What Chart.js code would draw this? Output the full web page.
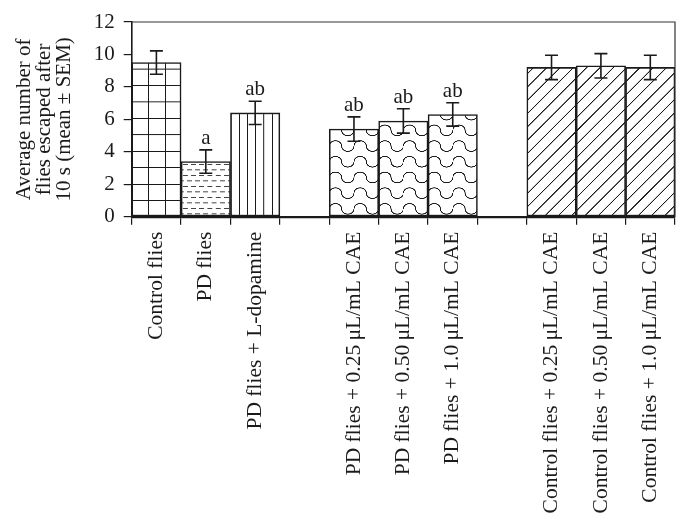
<!DOCTYPE html>
<html>
<head>
<meta charset="utf-8">
<script src="https://cdn.jsdelivr.net/npm/chart.js@4.4.0/dist/chart.umd.min.js"></script>
<style>
  html, body { margin: 0; padding: 0; background: #fff; }
  #wrap { width: 689px; height: 532px; }
</style>
</head>
<body>
<div id="wrap"><canvas id="c" width="689" height="532"></canvas></div>
<script>
// ---- data ----
const categories = [
  'Control flies', 'PD flies', 'PD flies + L-dopamine', '',
  'PD flies + 0.25\u2009\u03bcL/mL CAE', 'PD flies + 0.50\u2009\u03bcL/mL CAE', 'PD flies + 1.0\u2009\u03bcL/mL CAE', '',
  'Control flies + 0.25\u2009\u03bcL/mL CAE', 'Control flies + 0.50\u2009\u03bcL/mL CAE', 'Control flies + 1.0\u2009\u03bcL/mL CAE'
];
const meanValues = [9.5, 3.4, 6.4, null, 5.4, 5.9, 6.3, null, 9.2, 9.3, 9.2];
const semValues  = [0.72, 0.72, 0.72, null, 0.75, 0.75, 0.72, null, 0.75, 0.75, 0.75];
const sigLetters = ['', 'a', 'ab', '', 'ab', 'ab', 'ab', '', '', '', ''];
const patternKinds = ['grid', 'dash', 'vert', null, 'wave', 'wave', 'wave', null, 'diag', 'diag', 'diag'];
const yTicks = [0, 2, 4, 6, 8, 10, 12];
const yTitle = ['Average number of', 'flies escaped after', '10 s (mean \u00b1 SEM)'];

const SERIF = "'Liberation Serif', 'Times New Roman', serif";
const INK = '#1a1a1a';

// ---- patterns ----
const patternCache = {};
function makeTile(wT, hT, draw) {
  const W = Math.max(2, Math.round(wT * 4));
  const H = Math.max(2, Math.round(hT * 4));
  const cv = document.createElement('canvas');
  cv.width = W; cv.height = H;
  const g = cv.getContext('2d');
  g.fillStyle = '#fff';
  g.fillRect(0, 0, W, H);
  g.strokeStyle = INK;
  g.fillStyle = INK;
  draw(g, W, H);
  return { cv, W, H };
}
function buildPattern(kind, chart) {
  const ca = chart.chartArea;
  const slot = (ca.right - ca.left) / categories.length;
  const key = kind + '_' + slot.toFixed(3) + '_' + ca.left.toFixed(2) + '_' + ca.bottom.toFixed(2);
  if (patternCache[key]) return patternCache[key];
  let tile, wT, hT;
  if (kind === 'grid') {
    wT = slot / 3; hT = slot / 3;
    tile = makeTile(wT, hT, (g, W, H) => { g.fillRect(0, 0, W, 4); g.fillRect(0, 0, 4, H); });
  } else if (kind === 'dash') {
    wT = slot / 6; hT = 11;
    tile = makeTile(wT, hT, (g, W, H) => {
      g.fillStyle = '#444';
      const dl = W * 0.6;
      g.fillRect(W * 0.2, H * 0.25 - 2, dl, 4);
      g.fillRect(W * 0.7, H * 0.75 - 2, W * 0.3, 4);
      g.fillRect(0, H * 0.75 - 2, dl - W * 0.3, 4);
    });
  } else if (kind === 'vert') {
    wT = slot / 6; hT = 10;
    tile = makeTile(wT, hT, (g, W, H) => { g.fillRect(0, 0, 4, H); });
  } else if (kind === 'wave') {
    wT = slot / 2; hT = 15.7;
    tile = makeTile(wT, hT, (g, W, H) => {
      g.lineWidth = 4;
      const ry = 5.3 * 4;
      g.beginPath();
      g.ellipse(W / 4, H / 2, W / 4, ry, 0, Math.PI, 2 * Math.PI, false);
      g.ellipse(3 * W / 4, H / 2, W / 4, ry, 0, Math.PI, 0, true);
      g.stroke();
    });
  } else if (kind === 'diag') {
    wT = 13.3; hT = 13.3;
    tile = makeTile(wT, hT, (g, W, H) => {
      g.lineWidth = 4;
      g.beginPath();
      g.moveTo(-4, H + 4); g.lineTo(W + 4, -4);
      g.moveTo(-4, 4); g.lineTo(4, -4);
      g.moveTo(W - 4, H + 4); g.lineTo(W + 4, H - 4);
      g.stroke();
    });
  }
  const pat = chart.ctx.createPattern(tile.cv, 'repeat');
  const m = new DOMMatrix().translate(ca.left, ca.bottom).scale(wT / tile.W, hT / tile.H);
  pat.setTransform(m);
  patternCache[key] = pat;
  return pat;
}

// ---- plugins ----
const framePlugin = {
  id: 'frame',
  afterDatasetsDraw(chart) {
    const { ctx, chartArea: a } = chart;
    ctx.save();
    ctx.strokeStyle = '#333';
    ctx.lineWidth = 1.2;
    ctx.beginPath();
    ctx.moveTo(a.left, a.top); ctx.lineTo(a.right, a.top); ctx.lineTo(a.right, a.bottom);
    ctx.stroke();
    ctx.restore();
  }
};
const errorPlugin = {
  id: 'errbars',
  afterDatasetsDraw(chart) {
    const { ctx } = chart;
    const ys = chart.scales.y;
    const meta = chart.getDatasetMeta(0);
    ctx.save();
    ctx.strokeStyle = INK;
    ctx.lineWidth = 1.6;
    ctx.fillStyle = INK;
    ctx.font = "21px " + SERIF;
    ctx.textAlign = 'center';
    ctx.textBaseline = 'alphabetic';
    meanValues.forEach((v, i) => {
      if (v === null) return;
      const x = meta.data[i].x;
      const yt = ys.getPixelForValue(v + semValues[i]);
      const yb = ys.getPixelForValue(v - semValues[i]);
      const cap = 6.5;
      ctx.beginPath();
      ctx.moveTo(x, yt); ctx.lineTo(x, yb);
      ctx.moveTo(x - cap, yt); ctx.lineTo(x + cap, yt);
      ctx.moveTo(x - cap, yb); ctx.lineTo(x + cap, yb);
      ctx.stroke();
      if (sigLetters[i]) ctx.fillText(sigLetters[i], x, yt - 6);
    });
    ctx.restore();
  }
};

new Chart(document.getElementById('c'), {
  type: 'bar',
  data: {
    labels: categories,
    datasets: [{
      data: meanValues,
      backgroundColor: (c) => {
        const k = patternKinds[c.dataIndex];
        if (!k || !c.chart.chartArea) return '#fff';
        return buildPattern(k, c.chart);
      },
      borderColor: INK,
      borderWidth: 1.6,
      borderSkipped: false,
      categoryPercentage: 1.0,
      barPercentage: 1.0
    }]
  },
  options: {
    responsive: false,
    animation: false,
    devicePixelRatio: 1,
    layout: { padding: { left: 0, right: 14, top: 22, bottom: 0 } },
    plugins: { legend: { display: false }, tooltip: { enabled: false } },
    scales: {
      x: {
        grid: { display: true, drawOnChartArea: false, drawTicks: true, tickLength: 8, color: INK, lineWidth: 1.2, offset: true },
        border: { display: true, color: INK, width: 2.2 },
        ticks: {
          autoSkip: false, maxRotation: 90, minRotation: 90, padding: 7,
          color: INK, font: { family: SERIF, size: 21.5 }
        },
        afterFit(s) { s.height = 532 - 216.7; }
      },
      y: {
        min: 0, max: 12,
        afterBuildTicks(s) { s.ticks = yTicks.map(v => ({ value: v })); },
        grid: { display: true, drawOnChartArea: false, drawTicks: true, tickLength: 8, color: INK, lineWidth: 1.2 },
        border: { display: true, color: INK, width: 1.6 },
        ticks: { padding: 9, color: INK, font: { family: SERIF, size: 21 } },
        title: {
          display: true, text: yTitle, color: INK,
          font: { family: SERIF, size: 21, lineHeight: 0.95 },
          padding: { top: 15, bottom: 0 }
        },
        afterFit(s) { s.width = 131.7; }
      }
    }
  },
  plugins: [framePlugin, errorPlugin]
});
</script>
</body>
</html>
